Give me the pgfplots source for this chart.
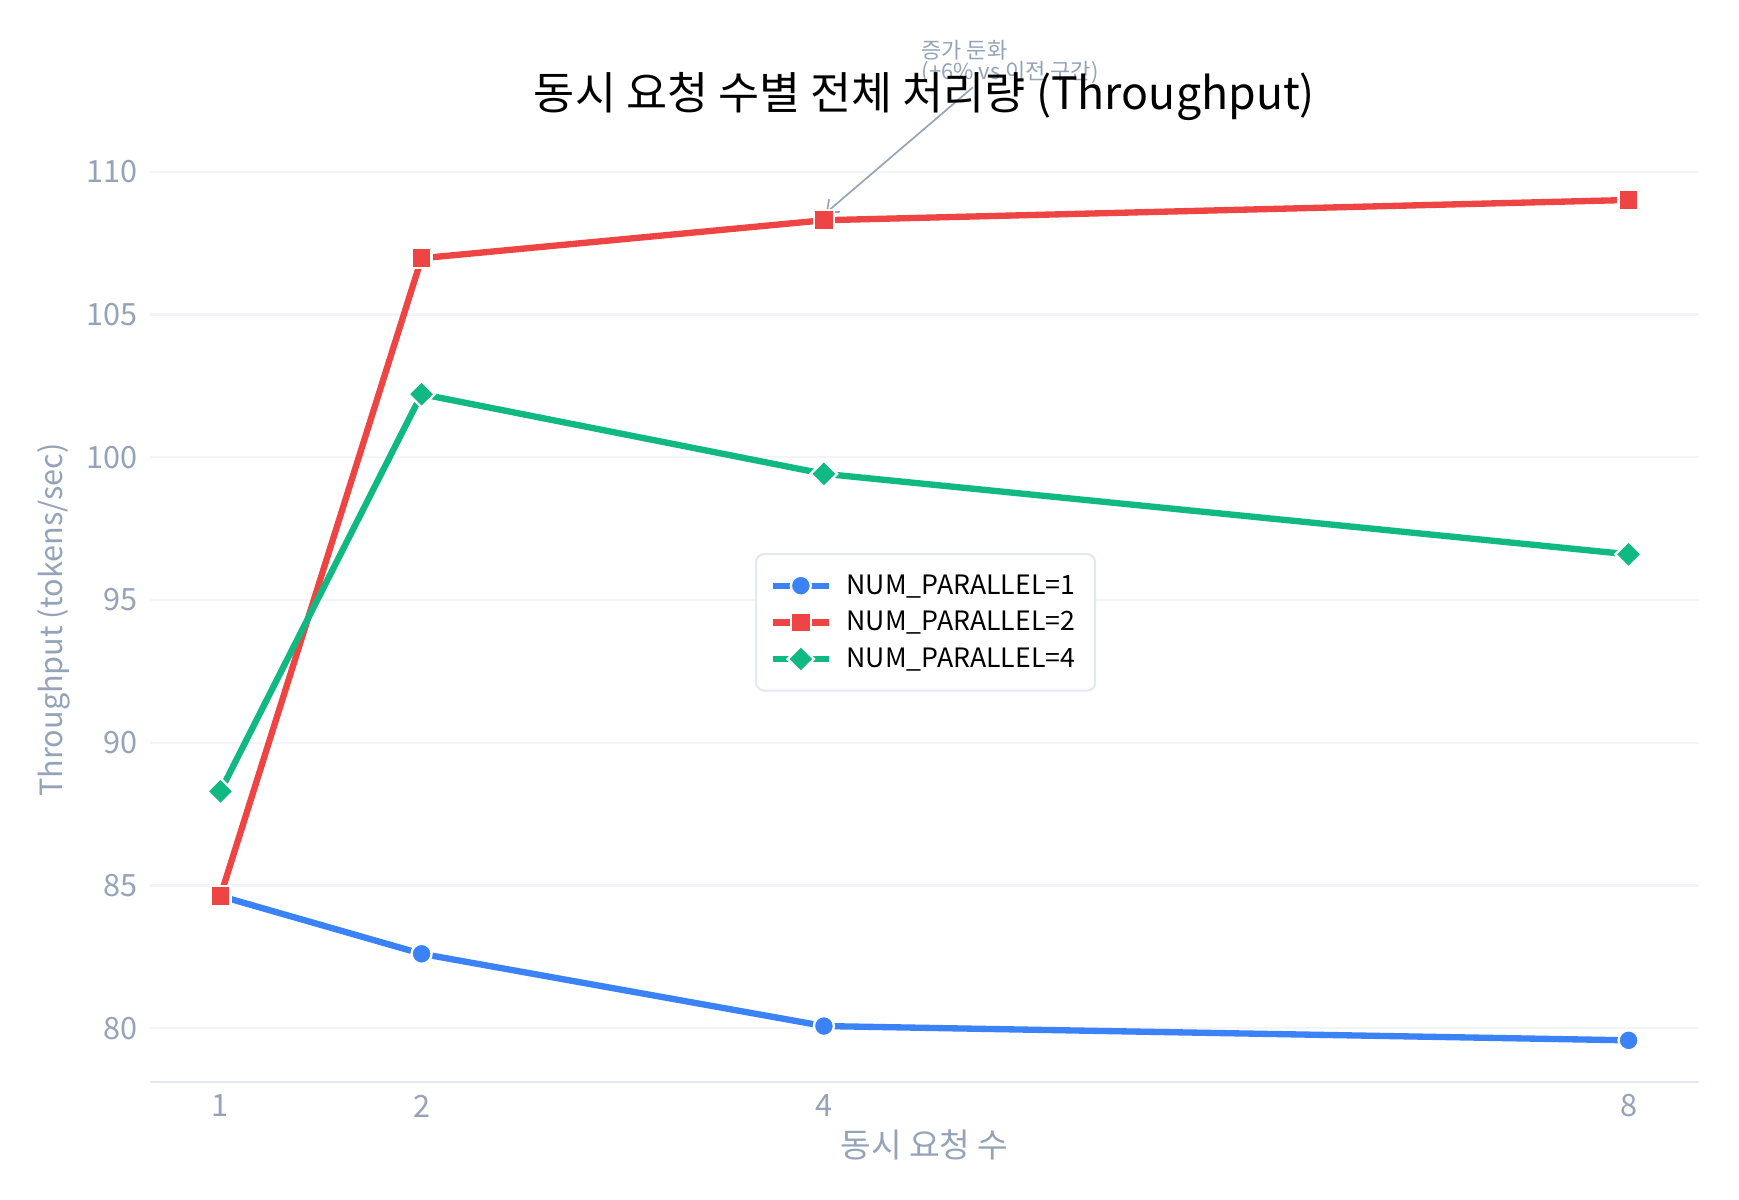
\documentclass[border=0pt]{standalone}
\usepackage{fontspec}
\setmainfont{Noto Sans CJK KR}
\usepackage{pgfplots}
\pgfplotsset{compat=1.18}
\usetikzlibrary{arrows.meta}

\definecolor{cBlue}{HTML}{3B82F6}
\definecolor{cRed}{HTML}{EF4444}
\definecolor{cGreen}{HTML}{10B981}
\definecolor{cTick}{HTML}{94A3B8}
\definecolor{cGrid}{HTML}{F1F5F9}
\definecolor{cAxis}{HTML}{E2E8F0}

\begin{document}
\begin{tikzpicture}
\begin{axis}[
    scale only axis,
    width=464.7pt,
    height=277.2pt,
    xmin=0.65, xmax=8.35,
    ymin=78.12, ymax=110.48,
    xtick={1,2,4,8},
    ytick={80,85,90,95,100,105,110},
    scaled ticks=false,
    /pgf/number format/assume math mode=true,
    axis x line*=bottom,
    axis y line*=left,
    x axis line style={draw=cAxis, line width=0.7pt},
    y axis line style={draw=none},
    major tick length=0pt,
    ymajorgrids,
    grid style={draw=cGrid, line width=0.7pt},
    tick label style={font=\fontsize{9.2}{10}\selectfont, text=cTick},
    xticklabel style={anchor=center, yshift=-7.2pt},
    yticklabel style={anchor=east, inner sep=0pt, xshift=-3.6pt},
    xlabel={동시 요청 수},
    ylabel={Throughput (tokens/sec)},
    xlabel style={at={(axis description cs:0.5,-0.0682)}, anchor=center,
        font=\fontsize{10}{11}\selectfont, text=cTick},
    ylabel style={at={(axis description cs:-0.0624,0.5)}, anchor=center,
        font=\fontsize{9.2}{11}\selectfont, text=cTick},
    title={동시 요청 수별 전체 처리량 (Throughput)},
    title style={at={(axis description cs:0.5,1.053)}, anchor=base, yshift=-6pt,
        font=\fontsize{13.4}{15}\selectfont, text=black},
    clip=false,
    legend cell align=left,
    legend image code/.code={
        \draw[mark repeat=2, mark phase=2]
        plot coordinates {(0pt,0pt) (8.5pt,0pt) (17pt,0pt)};
    },
    legend style={
        at={(0.3906,0.5725)}, anchor=north west,
        draw=cAxis, line width=0.6pt, rounded corners=2.5pt, fill=white,
        inner xsep=4pt, inner ysep=4pt,
        font=\fontsize{8}{9}\selectfont, text=black,
        nodes={inner sep=2pt, text height=6pt, text depth=1pt},
        /tikz/every odd column/.append style={column sep=2.3pt},
    },
]

% NUM_PARALLEL=1
\addplot[cBlue, line width=1.9pt, mark=*, mark size=3pt,
    mark options={fill=cBlue, draw=white, line width=0.7pt}]
    coordinates {(1,84.63) (2,82.61) (4,80.08) (8,79.58)};
\addlegendentry{NUM\_PARALLEL=1}

% NUM_PARALLEL=2
\addplot[cRed, line width=1.9pt, mark=square*, mark size=3pt,
    mark options={fill=cRed, draw=white, line width=0.7pt}]
    coordinates {(1,84.63) (2,106.97) (4,108.3) (8,109.01)};
\addlegendentry{NUM\_PARALLEL=2}

% NUM_PARALLEL=4
\addplot[cGreen, line width=1.9pt, mark=square*, mark size=2.8pt,
    mark options={fill=cGreen, draw=white, line width=0.7pt, rotate=45}]
    coordinates {(1,88.30) (2,102.21) (4,99.42) (8,96.60)};
\addlegendentry{NUM\_PARALLEL=4}

% annotation
\draw[cTick, line width=0.5pt, -{Straight Barb[length=3pt, width=5pt]}]
    ([shift={(44.7pt,39.9pt)}]axis cs:4,108.3) -- ([shift={(0.6pt,2.2pt)}]axis cs:4,108.3);
\node[anchor=north west, inner sep=0pt, align=left, text=cTick,
    font=\fontsize{6.6}{6.4}\selectfont]
    at ([shift={(29.1pt,54.2pt)}]axis cs:4,108.3) {증가 둔화\\(+6\% vs 이전 구간)};

\coordinate (sw) at (rel axis cs:0,0);
\coordinate (ne) at (rel axis cs:1,1);
\end{axis}
\pgfresetboundingbox
\path ([shift={(-45pt,-35.1pt)}]sw) rectangle ([shift={(12pt,47.4pt)}]ne);
\end{tikzpicture}
\end{document}
